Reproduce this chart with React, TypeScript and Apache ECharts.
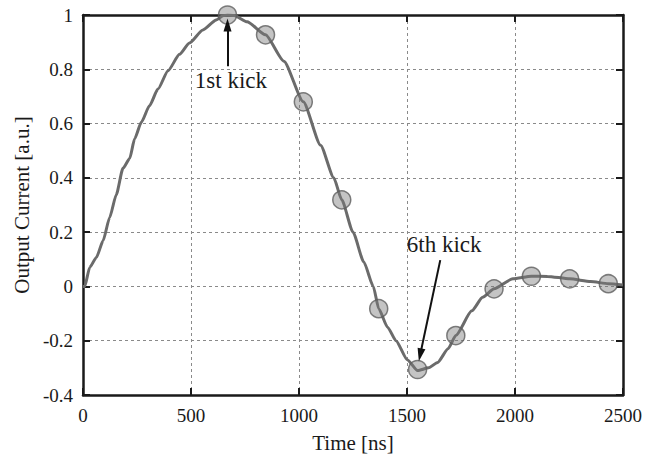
import React, { useEffect, useRef } from "react";
import * as echarts from "echarts";

// Output current waveform (time in ns, normalised amplitude)
const curveT = [0, 8, 31, 62, 93, 123, 154, 185, 216, 239, 270, 308, 347, 393, 447, 493, 555, 617, 648, 669, 700, 760, 845, 930, 1020, 1100, 1161, 1198, 1250, 1300, 1344, 1369, 1410, 1449, 1501, 1549, 1600, 1642, 1690, 1726, 1800, 1850, 1903, 1990, 2076, 2150, 2253, 2350, 2432, 2500];
const curveV = [0, 0, 0.07, 0.107, 0.168, 0.253, 0.338, 0.435, 0.471, 0.544, 0.605, 0.666, 0.727, 0.794, 0.855, 0.897, 0.945, 0.982, 0.997, 1.0, 0.998, 0.975, 0.927, 0.83, 0.68, 0.52, 0.4, 0.319, 0.2, 0.09, 0.0, -0.082, -0.15, -0.2, -0.27, -0.31, -0.3, -0.28, -0.23, -0.181, -0.09, -0.04, -0.009, 0.028, 0.0375, 0.037, 0.028, 0.018, 0.01, 0.005];

// Kick instants sampled on the waveform
const kickT = [669, 845, 1020, 1198, 1369, 1549, 1726, 1903, 2076, 2253, 2432];
const kickV = [1.0, 0.927, 0.68, 0.319, -0.082, -0.306, -0.181, -0.009, 0.0375, 0.028, 0.01];

// Annotations: label text, label anchor, arrow tail and arrow tip (data units)
const notes = [
  { text: "1st kick", at: [685, 0.759], from: [669, 0.811], to: [669, 0.963] },
  { text: "6th kick", at: [1672, 0.154], from: [1654, 0.097], to: [1561, -0.252] },
];

const xTicks = { min: 0, max: 2500, interval: 500 };
const yTicks = { min: -0.4, max: 1, interval: 0.2 };

const FONT = "Liberation Serif, Times New Roman, serif";
const INK = "#1a1a1a";

export default function App() {
  const ref = useRef<HTMLDivElement>(null);

  useEffect(() => {
    if (!ref.current) return;
    const chart = echarts.init(ref.current, null, { renderer: "svg" });

    const axisLine = { show: true, onZero: false, lineStyle: { color: INK, width: 2.5 } };
    const axisTick = { show: true, inside: true, length: 7, lineStyle: { color: INK, width: 2 } };
    const split = { show: true, lineStyle: { color: "#8a8a8a", width: 1, type: [3, 3] as any } };
    const label = { fontFamily: FONT, fontSize: 19, color: INK };

    chart.setOption({
      animation: false,
      backgroundColor: "#ffffff",
      textStyle: { fontFamily: FONT },
      grid: { left: 83, right: 36, top: 15, bottom: 59, containLabel: false },
      xAxis: [
        {
          type: "value",
          ...xTicks,
          position: "bottom",
          axisLine,
          axisTick,
          splitLine: split,
          axisLabel: { ...label, margin: 11, formatter: (v: number) => String(v) },
          name: "Time [ns]",
          nameLocation: "middle",
          nameGap: 37,
          nameTextStyle: { fontFamily: FONT, fontSize: 21, color: INK },
        },
        {
          type: "value",
          ...xTicks,
          position: "top",
          axisLine,
          axisTick,
          splitLine: { show: false },
          axisLabel: { show: false },
        },
      ],
      yAxis: [
        {
          type: "value",
          ...yTicks,
          position: "left",
          axisLine,
          axisTick,
          splitLine: split,
          axisLabel: {
            ...label,
            margin: 10,
            formatter: (v: number) => String(Math.round(v * 10) / 10),
          },
          name: "Output Current [a.u.]",
          nameLocation: "middle",
          nameGap: 50,
          nameTextStyle: { fontFamily: FONT, fontSize: 21, color: INK },
        },
        {
          type: "value",
          ...yTicks,
          position: "right",
          axisLine,
          axisTick,
          splitLine: { show: false },
          axisLabel: { show: false },
        },
      ],
      series: [
        {
          type: "line",
          data: curveT.map((t, i) => [t, curveV[i]]),
          showSymbol: false,
          smooth: 0.2,
          smoothMonotone: "x",
          lineStyle: { color: "#6b6b6b", width: 3 },
          z: 2,
          silent: true,
        },
        {
          type: "scatter",
          data: kickT.map((t, i) => [t, kickV[i]]),
          symbol: "circle",
          symbolSize: 18,
          itemStyle: {
            color: "rgba(120,120,120,0.55)",
            borderColor: "#5e5e5e",
            borderWidth: 1.5,
          },
          z: 3,
          silent: true,
          markLine: {
            silent: true,
            symbol: ["none", "triangle"],
            symbolSize: [8, 13],
            lineStyle: { color: "#111111", width: 2, type: "solid" },
            label: { show: false },
            data: notes.map((n) => [{ coord: n.from }, { coord: n.to }]),
          },
          markPoint: {
            silent: true,
            symbol: "circle",
            symbolSize: 1,
            itemStyle: { color: "rgba(0,0,0,0)" },
            label: {
              show: true,
              position: "inside",
              fontFamily: FONT,
              fontSize: 23,
              color: INK,
            },
            data: notes.map((n) => ({
              coord: n.at,
              label: { formatter: n.text },
            })),
          },
        },
      ],
    });

    return () => chart.dispose();
  }, []);

  return (
    <div
      ref={ref}
      style={{ position: "fixed", left: 0, top: 0, width: 659, height: 458 }}
    />
  );
}
